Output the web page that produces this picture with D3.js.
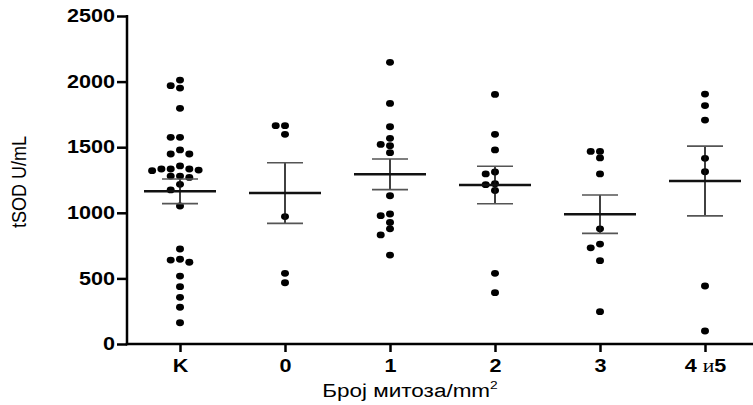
<!DOCTYPE html>
<html>
<head>
<meta charset="utf-8">
<script src="https://cdn.jsdelivr.net/npm/d3@7"></script>
<style>
html,body{margin:0;padding:0;background:#fff;}
svg{display:block;font-family:"Liberation Sans",Arial,sans-serif;}
</style>
</head>
<body>
<svg id="chart" width="753" height="405"></svg>
<script>
// ---- data ----
const categories = ["K", "0", "1", "2", "3", "4и5"];
const valuesK  = [2012, 1969, 1951, 1796, 1575, 1575, 1479, 1448, 1448, 1357, 1334, 1334, 1334, 1326, 1321, 1280, 1280, 1270, 1217, 1174, 1052, 724, 646, 640, 623, 518, 437, 356, 280, 162];
const values0  = [1664, 1664, 1598, 971, 539, 467];
const values1  = [2147, 1834, 1656, 1568, 1521, 1512, 1458, 1130, 991, 978, 926, 878, 831, 678];
const values2  = [1902, 1598, 1479, 1311, 1296, 1222, 1214, 1170, 539, 391];
const values3  = [1468, 1468, 1418, 1296, 878, 762, 733, 635, 246];
const values45 = [1905, 1817, 1707, 1415, 1313, 442, 99];
const seriesValues = [valuesK, values0, values1, values2, values3, values45];
const yTicks = [0, 500, 1000, 1500, 2000, 2500];
const yLabel = "tSOD U/mL";
const xLabel = "Број митоза/mm";

// ---- layout ----
const svg = d3.select("#chart");
const SX = 1.2; // horizontal stretch of the original picture
const axisLeftX = 127, axisRightX = 753, y0 = 344, yTop = 16;

const y = d3.scaleLinear().domain([0, 2500]).range([y0, yTop]);
const x = d3.scalePoint().domain(categories).range([180, 705]);

// y axis
const gy = svg.append("g").attr("transform", `translate(${axisLeftX},0)`)
  .call(d3.axisLeft(y).tickValues(yTicks).tickFormat(d3.format("d")).tickSize(10).tickSizeOuter(0).tickPadding(3));
gy.select(".domain").remove();
gy.selectAll(".tick line").attr("stroke", "#000").attr("stroke-width", 2.5);
gy.selectAll(".tick text")
  .attr("font-size", 18).attr("font-weight", "bold").attr("fill", "#000")
  .attr("font-family", "'Liberation Sans',Arial,sans-serif")
  .attr("x", -12 / SX).attr("transform", `scale(${SX},1)`);
svg.append("line").attr("x1", axisLeftX).attr("x2", axisLeftX)
  .attr("y1", yTop - 1).attr("y2", y0 + 1.25).attr("stroke", "#000").attr("stroke-width", 2.5);

// x axis
const gx = svg.append("g").attr("transform", `translate(0,${y0})`)
  .call(d3.axisBottom(x).tickSize(8).tickSizeOuter(0).tickPadding(6).tickFormat(() => ""));
gx.select(".domain").remove();
gx.selectAll(".tick line").attr("stroke", "#000").attr("stroke-width", 2.5);
svg.append("line").attr("x1", axisLeftX - 1.25).attr("x2", axisRightX)
  .attr("y1", y0).attr("y2", y0).attr("stroke", "#000").attr("stroke-width", 2.5);

gx.selectAll(".tick").each(function(d) {
  const t = d3.select(this).append("text")
    .attr("y", 28).attr("text-anchor", "middle")
    .attr("transform", `scale(${SX},1)`)
    .attr("font-size", 18).attr("font-weight", "bold").attr("fill", "#000");
  if (d === "4и5") {
    t.append("tspan").text("4 ");
    t.append("tspan").attr("font-family", "'Liberation Serif','DejaVu Serif',serif").attr("font-weight", "normal").text("и");
    t.append("tspan").text("5");
  } else {
    t.text(d);
  }
});

// axis titles
svg.append("text")
  .attr("transform", `translate(26,182) rotate(-90) scale(1,1.1)`)
  .attr("text-anchor", "middle").attr("font-size", 18).attr("fill", "#000")
  .text(yLabel);
const xt = svg.append("text")
  .attr("transform", `translate(410,397) scale(1.25,1)`)
  .attr("text-anchor", "middle").attr("font-size", 18).attr("fill", "#000");
xt.append("tspan").text(xLabel);
xt.append("tspan").attr("font-size", 11).attr("dy", -8).text("2");

// ---- dots with simple beeswarm ----
const slotW = 9.3, minDist = 6.2;
categories.forEach((cat, i) => {
  const vals = seriesValues[i].slice().sort((a, b) => b - a);
  const placed = [];
  const slotsOrder = [0, -1, 1, -2, 2, -3, 3, -4, 4];
  vals.forEach(v => {
    const py = y(v);
    let slot = 0;
    for (const s of slotsOrder) {
      if (!placed.some(p => p.slot === s && Math.abs(p.py - py) < minDist)) { slot = s; break; }
    }
    placed.push({slot, py, v});
  });
  svg.append("g").selectAll("ellipse").data(placed).join("ellipse")
    .attr("cx", p => x(cat) + p.slot * slotW)
    .attr("cy", p => p.py)
    .attr("rx", 4).attr("ry", 3.4).attr("fill", "#000");

  // mean +/- SEM
  const vs = seriesValues[i];
  const m = d3.mean(vs);
  const sem = d3.deviation(vs) / Math.sqrt(vs.length);
  const cx = x(cat);
  const g = svg.append("g");
  g.append("line").attr("x1", cx).attr("x2", cx).attr("y1", y(m + sem)).attr("y2", y(m - sem))
    .attr("stroke", "#111").attr("stroke-width", 1.6);
  [m + sem, m - sem].forEach(v => {
    g.append("line").attr("x1", cx - 18).attr("x2", cx + 18).attr("y1", y(v)).attr("y2", y(v))
      .attr("stroke", "#555").attr("stroke-width", 1.6);
  });
  g.append("line").attr("x1", cx - 36).attr("x2", cx + 36).attr("y1", y(m)).attr("y2", y(m))
    .attr("stroke", "#111").attr("stroke-width", 2.6);
});
</script>
</body>
</html>
